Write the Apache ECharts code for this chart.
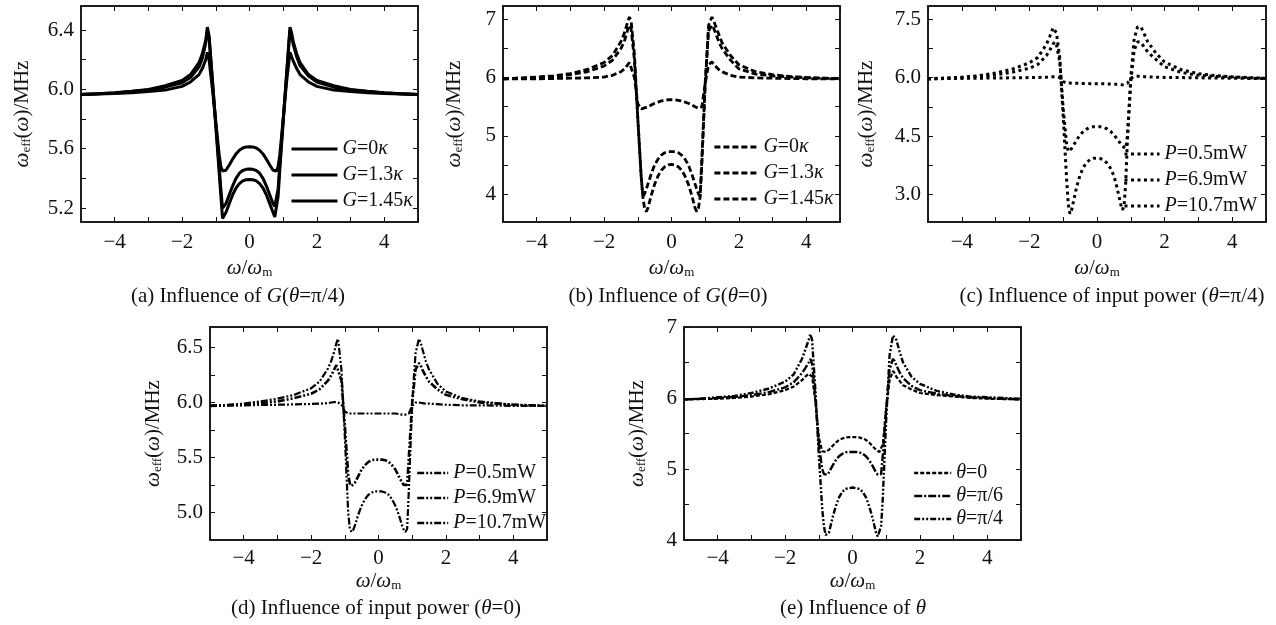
<!DOCTYPE html>
<html><head><meta charset="utf-8">
<script src="https://cdn.jsdelivr.net/npm/echarts@6/dist/echarts.min.js"></script>
<style>html,body{margin:0;padding:0;background:#fff}#c{width:1276px;height:625px}</style>
</head><body><div id="c"></div>
<script>
// shared x samples (omega / omega_m)
const X = [-5,-4.5,-4,-3.5,-3,-2.5,-2,-1.75,-1.5,-1.4,-1.3,-1.25,-1.2,-1.1,-1,-0.9,-0.85,-0.8,-0.75,-0.7,-0.6,-0.5,-0.4,-0.3,-0.2,-0.1,0,0.1,0.2,0.3,0.4,0.5,0.6,0.7,0.75,0.8,0.85,0.9,1,1.1,1.2,1.25,1.3,1.4,1.5,1.75,2,2.5,3,3.5,4,4.5,5];

// (a) influence of G, theta = pi/4
const A_G0   = [5.965,5.968,5.972,5.978,5.985,5.995,6.02,6.05,6.1,6.14,6.2,6.25,6.2,6.0,5.78,5.56,5.48,5.45,5.445,5.455,5.49,5.53,5.565,5.59,5.605,5.612,5.614,5.612,5.605,5.59,5.565,5.53,5.49,5.455,5.445,5.45,5.48,5.56,5.8,6.05,6.25,6.22,6.19,6.14,6.1,6.05,6.02,5.995,5.985,5.978,5.972,5.968,5.965];
const A_G13  = [5.965,5.97,5.975,5.985,5.995,6.015,6.045,6.08,6.15,6.21,6.31,6.4,6.35,6.06,5.77,5.48,5.33,5.2,5.21,5.23,5.29,5.35,5.4,5.435,5.453,5.461,5.463,5.461,5.453,5.435,5.4,5.35,5.29,5.23,5.21,5.2,5.33,5.5,5.8,6.1,6.4,6.36,6.3,6.22,6.16,6.09,6.05,6.015,5.995,5.985,5.975,5.97,5.965];
const A_G145 = [5.965,5.97,5.978,5.988,6.0,6.025,6.06,6.1,6.18,6.24,6.33,6.42,6.36,6.06,5.75,5.44,5.28,5.13,5.14,5.17,5.23,5.29,5.335,5.365,5.383,5.391,5.393,5.391,5.383,5.365,5.335,5.29,5.23,5.17,5.14,5.13,5.28,5.46,5.78,6.1,6.42,6.38,6.32,6.24,6.18,6.1,6.06,6.025,6.0,5.988,5.978,5.97,5.965];

// (b) influence of G, theta = 0
const B_G0   = [5.98,5.98,5.98,5.985,5.99,5.995,6.01,6.04,6.1,6.15,6.22,6.26,6.25,6.0,5.55,5.46,5.47,5.48,5.49,5.5,5.53,5.56,5.58,5.6,5.61,5.62,5.62,5.62,5.61,5.6,5.58,5.56,5.53,5.5,5.49,5.47,5.46,5.5,5.9,6.22,6.27,6.24,6.2,6.14,6.1,6.04,6.01,5.995,5.99,5.985,5.98,5.98,5.98];
const B_G13  = [5.98,5.99,6.0,6.02,6.05,6.1,6.2,6.3,6.5,6.62,6.82,6.9,6.85,6.3,5.3,4.3,3.96,4.0,4.08,4.17,4.35,4.5,4.6,4.67,4.71,4.73,4.73,4.73,4.71,4.67,4.6,4.5,4.35,4.17,4.08,4.0,3.96,4.6,5.9,6.8,6.9,6.85,6.78,6.62,6.5,6.3,6.15,6.06,6.03,6.01,6.0,5.99,5.98];
const B_G145 = [5.98,5.99,6.01,6.03,6.07,6.14,6.26,6.38,6.62,6.76,6.96,7.04,6.98,6.4,5.3,4.3,3.95,3.76,3.7,3.76,3.98,4.17,4.31,4.41,4.47,4.5,4.51,4.5,4.47,4.41,4.31,4.17,3.98,3.76,3.7,3.76,3.95,4.5,5.9,6.9,7.04,6.98,6.9,6.75,6.6,6.38,6.22,6.1,6.05,6.02,6.0,5.99,5.98];

// (c) influence of input power, theta = pi/4
const C_P05  = [5.97,5.975,5.98,5.985,5.99,5.995,6.0,6.005,6.01,6.015,6.02,6.02,6.02,6.0,5.9,5.86,5.86,5.86,5.86,5.855,5.855,5.85,5.85,5.85,5.845,5.845,5.84,5.84,5.84,5.835,5.835,5.83,5.83,5.82,5.82,5.81,5.81,5.85,5.98,6.03,6.035,6.035,6.03,6.025,6.02,6.01,6.005,6.0,5.995,5.99,5.985,5.98,5.975];
const C_P69  = [5.97,5.98,6.0,6.03,6.07,6.14,6.24,6.34,6.56,6.7,6.86,6.92,6.85,6.4,5.2,4.3,4.1,4.12,4.18,4.25,4.4,4.53,4.62,4.68,4.72,4.74,4.74,4.74,4.72,4.68,4.62,4.53,4.42,4.3,4.24,4.2,4.18,4.5,5.9,6.7,6.92,6.95,6.9,6.78,6.66,6.46,6.28,6.13,6.06,6.03,6.01,5.99,5.98];
const C_P107 = [5.97,5.99,6.01,6.05,6.12,6.22,6.38,6.52,6.85,7.05,7.28,7.33,7.15,6.5,5.0,3.4,2.75,2.5,2.6,2.8,3.2,3.5,3.7,3.82,3.9,3.93,3.93,3.92,3.88,3.8,3.67,3.48,3.15,2.75,2.6,2.7,3.3,4.4,6.0,7.0,7.3,7.35,7.3,7.12,6.92,6.62,6.4,6.2,6.1,6.05,6.02,6.0,5.98];

// (d) influence of input power, theta = 0
const D_P05  = [5.97,5.972,5.975,5.978,5.98,5.983,5.987,5.99,5.995,6.0,6.005,6.005,6.0,5.98,5.92,5.9,5.9,5.9,5.9,5.9,5.9,5.9,5.9,5.9,5.9,5.9,5.9,5.9,5.9,5.9,5.9,5.9,5.895,5.89,5.89,5.89,5.89,5.9,5.97,6.0,6.0,6.0,5.995,5.99,5.99,5.985,5.98,5.975,5.975,5.972,5.97,5.97,5.97];
const D_P69  = [5.97,5.975,5.98,5.995,6.01,6.04,6.08,6.12,6.2,6.25,6.31,6.34,6.355,6.2,5.8,5.35,5.26,5.24,5.25,5.27,5.33,5.39,5.43,5.46,5.475,5.48,5.48,5.48,5.475,5.46,5.43,5.39,5.33,5.27,5.25,5.24,5.25,5.5,6.0,6.3,6.36,6.34,6.3,6.24,6.19,6.12,6.07,6.03,6.0,5.99,5.98,5.975,5.97];
const D_P107 = [5.97,5.978,5.99,6.01,6.035,6.07,6.13,6.19,6.31,6.38,6.48,6.54,6.58,6.3,5.7,5.0,4.85,4.82,4.84,4.88,4.98,5.06,5.12,5.16,5.18,5.19,5.19,5.19,5.18,5.16,5.12,5.06,4.98,4.88,4.84,4.82,4.85,5.2,6.0,6.45,6.58,6.55,6.49,6.38,6.3,6.17,6.1,6.04,6.01,5.995,5.98,5.975,5.97];

// (e) influence of theta
const E_T0   = [5.98,5.985,5.99,6.0,6.02,6.05,6.11,6.16,6.25,6.3,6.34,6.36,6.3,5.95,5.45,5.25,5.24,5.24,5.25,5.27,5.32,5.37,5.41,5.43,5.445,5.45,5.45,5.45,5.445,5.43,5.41,5.37,5.32,5.27,5.25,5.24,5.23,5.35,5.85,6.25,6.38,6.35,6.3,6.24,6.18,6.12,6.07,6.04,6.02,6.0,5.99,5.985,5.98];
const E_T6   = [5.98,5.99,6.0,6.015,6.04,6.08,6.15,6.22,6.35,6.42,6.5,6.55,6.48,6.0,5.35,5.0,4.93,4.91,4.92,4.95,5.04,5.12,5.18,5.215,5.235,5.24,5.24,5.24,5.235,5.215,5.18,5.12,5.04,4.95,4.92,4.91,4.93,5.2,5.85,6.4,6.55,6.52,6.46,6.36,6.28,6.17,6.11,6.06,6.03,6.01,6.0,5.99,5.98];
const E_T4   = [5.98,5.99,6.01,6.03,6.07,6.13,6.23,6.33,6.55,6.68,6.82,6.9,6.82,6.1,5.2,4.45,4.2,4.07,4.05,4.1,4.3,4.47,4.6,4.68,4.72,4.73,4.74,4.73,4.72,4.68,4.6,4.47,4.3,4.1,4.05,4.07,4.2,4.6,5.7,6.6,6.88,6.9,6.82,6.65,6.5,6.3,6.2,6.1,6.05,6.02,6.01,6.0,5.99];

// tick label values
const YLAB_A = [5.2,5.6,6.0,6.4], YTICK_A = [5.2,5.4,5.6,5.8,6.0,6.2,6.4];
const YLAB_B = [4,5,6,7],         YTICK_B = [4,4.5,5,5.5,6,6.5,7];
const YLAB_C = [3.0,4.5,6.0,7.5], YTICK_C = [3,3.75,4.5,5.25,6,6.75,7.5];
const YLAB_D = [5.0,5.5,6.0,6.5], YTICK_D = [5,5.25,5.5,5.75,6,6.25,6.5];
const YLAB_E = [4,5,6,7],         YTICK_E = [4,4.5,5,5.5,6,6.5,7];
const XLAB = [-4,-2,0,2,4];

const FONT = '"Liberation Serif","Times New Roman",serif';
const FS = 21;
function mkRich(fs) {
  return {
    i:   {fontFamily: FONT, fontSize: fs, fontStyle: 'italic', color: '#111', lineHeight: 22, verticalAlign: 'middle'},
    n:   {fontFamily: FONT, fontSize: fs, color: '#111', lineHeight: 22, verticalAlign: 'middle'},
    sub: {fontFamily: FONT, fontSize: 13, color: '#111', lineHeight: 12, verticalAlign: 'bottom'}
  };
}
const rich = mkRich(FS), richLeg = mkRich(20);

const panels = [
  {grid:{left:81, top:6, width:337, height:216},  ymin:5.106, ymax:6.562, ylab:YLAB_A, ytick:YTICK_A, dec:1, gap:48, xgap:35, lm:10},
  {grid:{left:503,top:6, width:337, height:216},  ymin:3.52,  ymax:7.23,  ylab:YLAB_B, ytick:YTICK_B, dec:0, gap:38, xgap:35, lm:10},
  {grid:{left:928,top:6, width:338, height:216},  ymin:2.29,  ymax:7.84,  ylab:YLAB_C, ytick:YTICK_C, dec:1, gap:51, xgap:35, lm:10},
  {grid:{left:210,top:327,width:337, height:213}, ymin:4.748, ymax:6.688, ylab:YLAB_D, ytick:YTICK_D, dec:1, gap:46, xgap:30, lm:8},
  {grid:{left:684,top:327,width:337, height:213}, ymin:4,     ymax:7,     ylab:YLAB_E, ytick:YTICK_E, dec:0, gap:36, xgap:30, lm:8}
];

const grids = [], xAxes = [], yAxes = [];
panels.forEach((p, k) => {
  grids.push(Object.assign({show:true, borderColor:'#111', borderWidth:1.5, backgroundColor:'#fff', outerBoundsMode:'none', containLabel:false}, p.grid));
  const xBase = {type:'value', gridIndex:k, min:-5, max:5, interval:1, splitLine:{show:false},
    axisLine:{show:true, onZero:false, lineStyle:{color:'#111', width:1.5}},
    axisTick:{show:true, inside:true, length:5, lineStyle:{color:'#111', width:1}}};
  xAxes.push(Object.assign({}, xBase, {position:'bottom',
    name:'{i|ω}{n|/}{i|ω}{sub|m}', nameLocation:'middle', nameGap:p.xgap,
    nameTextStyle:{rich: rich},
    axisLabel:{show:true, margin:p.lm, fontFamily:FONT, fontSize:FS, color:'#111',
      formatter: v => (XLAB.indexOf(v) >= 0 ? (v < 0 ? '\u2212' + (-v) : String(v)) : '')}}));
  xAxes.push(Object.assign({}, xBase, {position:'top', axisLabel:{show:false}}));
  const yBase = {type:'value', gridIndex:k, min:p.ymin, max:p.ymax, splitLine:{show:false},
    axisLine:{show:true, onZero:false, lineStyle:{color:'#111', width:1.5}},
    axisTick:{show:true, inside:true, length:5, customValues:p.ytick, lineStyle:{color:'#111', width:1}}};
  yAxes.push(Object.assign({}, yBase, {position:'left',
    name:'{i|ω}{sub|eff}{n|(}{i|ω}{n|)/MHz}', nameLocation:'middle', nameGap:p.gap, nameRotate:90,
    nameTextStyle:{rich: rich},
    axisLabel:{show:true, margin:7, fontFamily:FONT, fontSize:FS, color:'#111', customValues:p.ylab,
      formatter: v => Number(v).toFixed(p.dec)}}));
  yAxes.push(Object.assign({}, yBase, {position:'right', axisLabel:{show:false}}));
});

function mk(name, ys, k, width, dash) {
  return {type:'line', name:name, xAxisIndex:2*k, yAxisIndex:2*k, symbol:'none', showSymbol:false,
    smooth:false, clip:true, animation:false, silent:true,
    itemStyle:{color:'#000'},
    lineStyle:{color:'#000', width:width, type:dash, cap:'butt'},
    data: X.map((x, i) => [x, ys[i]])};
}
const DASH_B = [6,3], DOT_C = [3,3.5], DD_D = [7,2,2,2,2,2];
const series = [
  mk('a0', A_G0, 0, 3, 'solid'), mk('a1', A_G13, 0, 3, 'solid'), mk('a2', A_G145, 0, 3, 'solid'),
  mk('b0', B_G0, 1, 2.8, DASH_B), mk('b1', B_G13, 1, 2.8, DASH_B), mk('b2', B_G145, 1, 2.8, DASH_B),
  mk('c0', C_P05, 2, 3, DOT_C), mk('c1', C_P69, 2, 3, DOT_C), mk('c2', C_P107, 2, 3, DOT_C),
  mk('d0', D_P05, 3, 2.2, DD_D), mk('d1', D_P69, 3, 2.6, DD_D), mk('d2', D_P107, 3, 2.2, DD_D),
  mk('e0', E_T0, 4, 2.2, [4,2]), mk('e1', E_T6, 4, 2.4, [8,2,2,2]), mk('e2', E_T4, 4, 2.4, [6,2,2,2,2,2])
];

const LEG_TEXT = {
  a0:'{i|G}{n|=0}{i|κ}', a1:'{i|G}{n|=1.3}{i|κ}', a2:'{i|G}{n|=1.45}{i|κ}',
  b0:'{i|G}{n|=0}{i|κ}', b1:'{i|G}{n|=1.3}{i|κ}', b2:'{i|G}{n|=1.45}{i|κ}',
  c0:'{i|P}{n|=0.5mW}', c1:'{i|P}{n|=6.9mW}', c2:'{i|P}{n|=10.7mW}',
  d0:'{i|P}{n|=0.5mW}', d1:'{i|P}{n|=6.9mW}', d2:'{i|P}{n|=10.7mW}',
  e0:'{i|θ}{n|=0}', e1:'{i|θ}{n|=π/6}', e2:'{i|θ}{n|=π/4}'
};
function leg(names, left, top, w, gap, lw) {
  return {data:names, left:left, top:top, orient:'vertical', itemWidth:w, itemHeight:14, itemGap:gap,
    padding:0, selectedMode:false,
    itemStyle:{opacity:0, borderWidth:0},
    lineStyle:{width:lw, type:'inherit', color:'#000', opacity:1},
    formatter: n => LEG_TEXT[n], textStyle:{rich: richLeg}};
}
const legends = [
  leg(['a0','a1','a2'], 290, 139, 46, 6, 3),
  leg(['b0','b1','b2'], 713, 137, 44, 6, 2.8),
  leg(['c0','c1','c2'], 1123, 144, 35, 6, 3),
  leg(['d0','d1','d2'], 416, 463, 31, 5, 2.4),
  leg(['e0','e1','e2'], 913, 463, 37, 3, 2.4)
];

const captions = [
  ['(a) Influence of {i|G}({i|θ}=π/4)', 238, 296],
  ['(b) Influence of {i|G}({i|θ}=0)', 668, 296],
  ['(c) Influence of input power ({i|θ}=π/4)', 1112, 296],
  ['(d) Influence of input power ({i|θ}=0)', 376, 608],
  ['(e) Influence of {i|θ}', 853, 608]
];
const graphic = captions.map(c => ({type:'text', x:c[1], y:c[2], silent:true,
  style:{text:c[0], fontFamily:FONT, fontSize:FS, fill:'#111', align:'center', verticalAlign:'middle', rich:rich}}));

const chart = echarts.init(document.getElementById('c'), null, {renderer:'canvas'});
chart.setOption({animation:false, backgroundColor:'#fff', color:['#000'], grid:grids, xAxis:xAxes, yAxis:yAxes,
  legend:legends, series:series, graphic:graphic});
</script></body></html>
